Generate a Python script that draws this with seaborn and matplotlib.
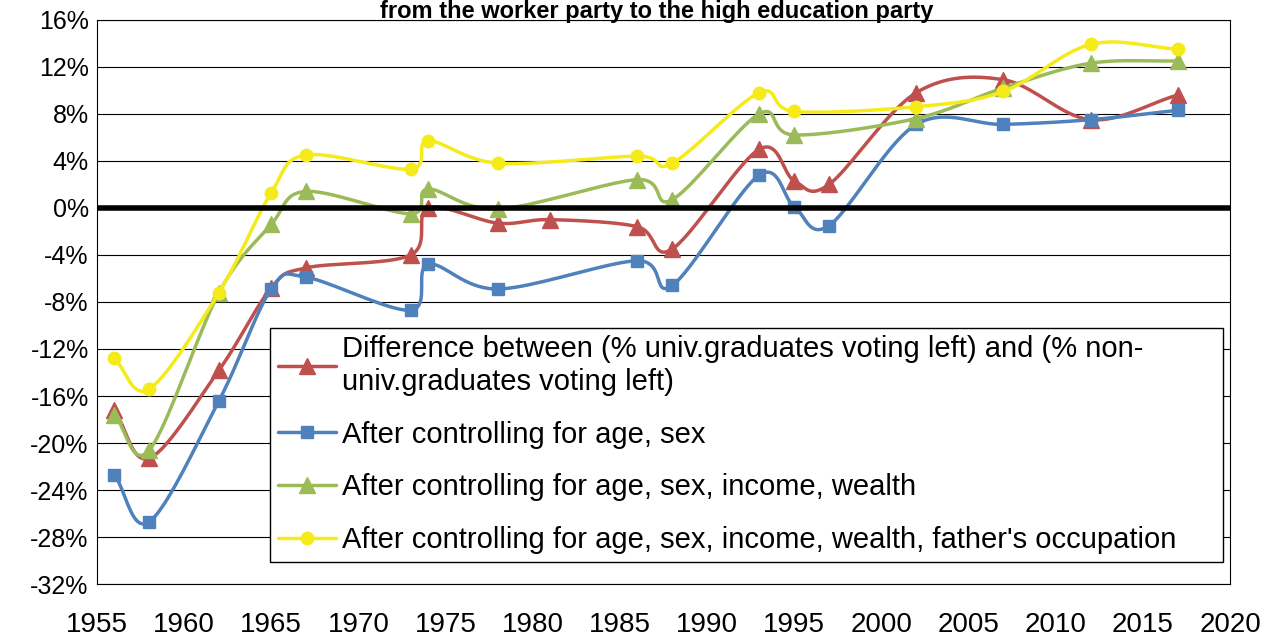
import numpy as np
import matplotlib
matplotlib.use("Agg")
import matplotlib.pyplot as plt
import seaborn as sns

years_red = [1956, 1958, 1962, 1965, 1967, 1973, 1974, 1978, 1981, 1986, 1988, 1993, 1995, 1997, 2002, 2007, 2012, 2017]
red = [-17.2, -21.3, -13.8, -6.8, -5.1, -4.0, 0.0, -1.3, -1.0, -1.6, -3.5, 5.0, 2.3, 2.0, 9.8, 10.9, 7.5, 9.6]
years_blue = [1956, 1958, 1962, 1965, 1967, 1973, 1974, 1978, 1986, 1988, 1993, 1995, 1997, 2002, 2007, 2012, 2017]
blue = [-22.7, -26.7, -16.4, -6.9, -5.9, -8.7, -4.8, -6.9, -4.5, -6.6, 2.8, 0.1, -1.5, 7.1, 7.1, 7.5, 8.3]
years_other = [1956, 1958, 1962, 1965, 1967, 1973, 1974, 1978, 1986, 1988, 1993, 1995, 2002, 2007, 2012, 2017]
green = [-17.6, -20.6, -7.2, -1.4, 1.4, -0.5, 1.6, -0.1, 2.4, 0.7, 8.0, 6.2, 7.6, 10.2, 12.3, 12.5]
yellow = [-12.8, -15.4, -7.2, 1.3, 4.5, 3.3, 5.7, 3.8, 4.4, 3.8, 9.8, 8.2, 8.6, 9.9, 13.9, 13.5]

labels = ["Difference between (% univ.graduates voting left) and (% non-\nuniv.graduates voting left)",
          "After controlling for age, sex",
          "After controlling for age, sex, income, wealth",
          "After controlling for age, sex, income, wealth, father's occupation"]


def smooth(x, y, n=20):
    # Catmull-Rom curve through the points (line shape only)
    x = np.asarray(x, float); y = np.asarray(y, float)
    px = np.concatenate([[2 * x[0] - x[1]], x, [2 * x[-1] - x[-2]]])
    py = np.concatenate([[2 * y[0] - y[1]], y, [2 * y[-1] - y[-2]]])
    xs, ys = [], []
    for i in range(1, len(px) - 2):
        t = np.linspace(0, 1, n, endpoint=False)
        for p, out in ((px, xs), (py, ys)):
            p0, p1, p2, p3 = p[i - 1], p[i], p[i + 1], p[i + 2]
            out.extend(0.5 * ((2 * p1) + (-p0 + p2) * t + (2 * p0 - 5 * p1 + 4 * p2 - p3) * t ** 2
                              + (-p0 + 3 * p1 - 3 * p2 + p3) * t ** 3))
    xs.append(x[-1]); ys.append(y[-1])
    return np.array(xs), np.array(ys)


sns.set_style("white")
plt.rcParams['font.family'] = ['Liberation Sans', 'DejaVu Sans']
plt.rcParams['text.color'] = 'black'
plt.rcParams['xtick.color'] = 'black'
plt.rcParams['ytick.color'] = 'black'
fig = plt.figure(figsize=(12.76, 6.37), dpi=100)
ax = fig.add_axes([0.076, 0.083, 0.888, 0.886])

series = [(years_red, red, "#C0504D", "^", labels[0]),
          (years_blue, blue, "#4F81BD", "s", labels[1]),
          (years_other, green, "#9BBB59", "^", labels[2]),
          (years_other, yellow, "#F5EB1A", "o", labels[3])]
for xs, ys, c, m, lab in series:
    sx, sy = smooth(xs, ys)
    sns.lineplot(x=sx, y=sy, ax=ax, color=c, lw=2.5, sort=False, estimator=None)
    ax.plot(xs, ys, ls="none", marker=m, color=c, ms=11 if m == "^" else 9)
    ax.plot([], [], color=c, lw=2.5, marker=m, ms=11 if m == "^" else 9, label=lab)

ax.axhline(0, color="black", lw=4, zorder=5)
ax.set_xlim(1955, 2020)
ax.set_ylim(-32, 16)
ax.set_yticks(range(-32, 17, 4))
ax.set_yticklabels([f"{v}%" for v in range(-32, 17, 4)], fontsize=18)
ax.set_xticks(range(1955, 2021, 5))
ax.set_xticklabels(range(1955, 2021, 5), fontsize=20)
ax.tick_params(axis="x", pad=20, length=0)
ax.tick_params(axis="y", length=0, pad=6)
ax.grid(axis="y", color="black", lw=0.8)
for s in ax.spines.values():
    s.set_color("black"); s.set_linewidth(0.8)

leg = ax.legend(loc="lower left", bbox_to_anchor=(0.153, 0.04, 0.8405, 0.485), mode="expand",
                fontsize=21, frameon=True, fancybox=False, framealpha=1, handlelength=2.0,
                handletextpad=0.2, labelspacing=0.85, borderaxespad=0, borderpad=0.25)
leg.get_frame().set_edgecolor("black")
leg.get_frame().set_linewidth(1)
leg.set_zorder(10)

fig.text(0.515, 1.0, "from the worker party to the high education party", ha="center", va="top",
         fontsize=17, fontweight="bold")
fig.savefig("out.png", dpi=100)
